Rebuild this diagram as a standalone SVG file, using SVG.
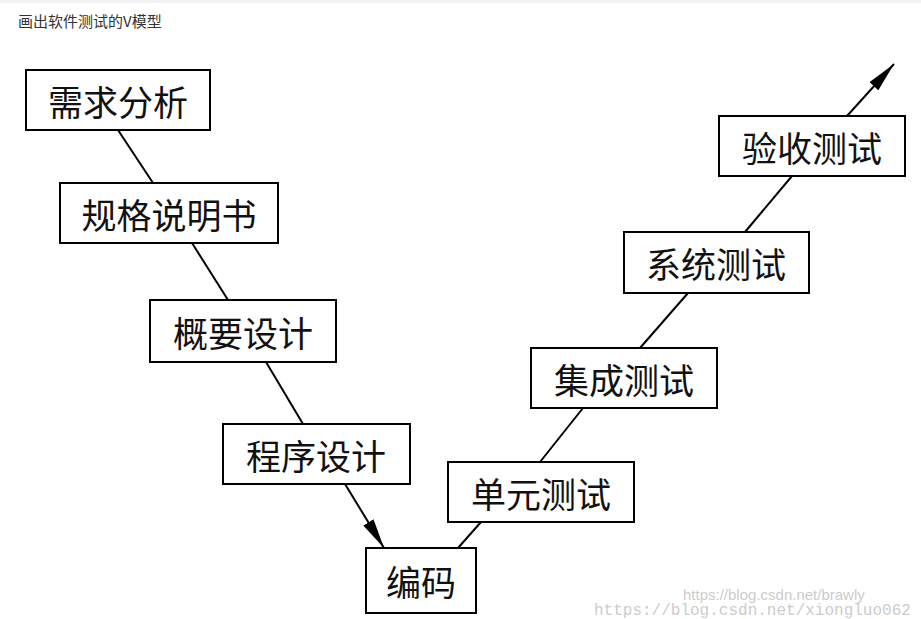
<svg xmlns="http://www.w3.org/2000/svg" width="921" height="619" viewBox="0 0 921 619">
<style>
.b{fill:#fff;stroke:#000;stroke-width:2}
.t{font-family:"Noto Sans CJK SC",sans-serif;font-size:35px;fill:#111;text-anchor:middle;dominant-baseline:central}
.l{stroke:#000;stroke-width:2;fill:none}
</style>
<defs>
<marker id="m" viewBox="0 0 30 12" refX="30" refY="6" markerWidth="30" markerHeight="12" orient="auto" markerUnits="userSpaceOnUse"><path d="M0,0 L30,6 L0,12 Z" fill="#000"/></marker></defs>
<rect width="921" height="619" fill="#fff"/>
<rect width="921" height="3" fill="#f2f2f2"/>
<text x="18" y="27" font-family="'Noto Sans CJK SC',sans-serif" font-size="15" fill="#333">画出软件测试的V模型</text>
<g id="connectors">
<line class="l" x1="118" y1="130" x2="153" y2="183"/>
<line class="l" x1="192" y1="243" x2="228" y2="300"/>
<line class="l" x1="266" y1="362" x2="303" y2="424"/>
<line class="l" x1="345" y1="484" x2="384" y2="548" marker-end="url(#m)"/>
<line class="l" x1="458" y1="548" x2="481" y2="522"/>
<line class="l" x1="540" y1="462" x2="583" y2="408"/>
<line class="l" x1="640" y1="348" x2="688" y2="293"/>
<line class="l" x1="745" y1="232" x2="792" y2="176"/>
<line class="l" x1="847" y1="116" x2="894" y2="64" marker-end="url(#m)"/>
</g>
<g id="n1"><rect class="b" x="26" y="70" width="184" height="60"/><text class="t" x="118" y="100">需求分析</text></g>
<g id="n2"><rect class="b" x="60" y="183" width="218" height="60"/><text class="t" x="169" y="213">规格说明书</text></g>
<g id="n3"><rect class="b" x="150" y="300" width="186" height="62"/><text class="t" x="243" y="331">概要设计</text></g>
<g id="n4"><rect class="b" x="223" y="424" width="187" height="60"/><text class="t" x="316" y="454">程序设计</text></g>
<g id="n5"><rect class="b" x="366" y="548" width="110" height="65"/><text class="t" x="421" y="580">编码</text></g>
<g id="n6"><rect class="b" x="448" y="462" width="186" height="60"/><text class="t" x="541" y="492">单元测试</text></g>
<g id="n7"><rect class="b" x="531" y="348" width="186" height="60"/><text class="t" x="624" y="378">集成测试</text></g>
<g id="n8"><rect class="b" x="624" y="232" width="185" height="61"/><text class="t" x="716" y="262">系统测试</text></g>
<g id="n9"><rect class="b" x="719" y="116" width="186" height="60"/><text class="t" x="812" y="146">验收测试</text></g>
<text x="683" y="600" font-family="'Liberation Sans',sans-serif" font-size="15" fill="#ccc">https://blog.csdn.net/brawly</text>
<text x="594" y="615" font-family="'Liberation Mono',monospace" font-size="16" fill="#ccc">https://blog.csdn.net/xiongluo062</text>
</svg>
